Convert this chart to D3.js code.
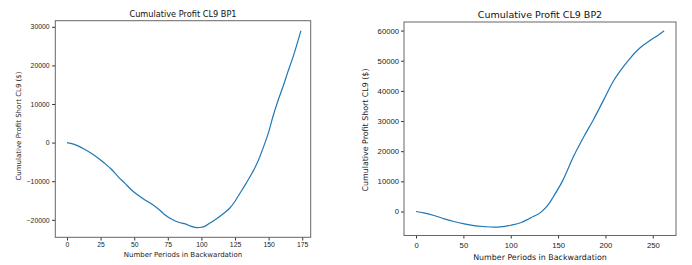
<!DOCTYPE html>
<html>
<head>
<meta charset="utf-8">
<script src="https://cdn.jsdelivr.net/npm/d3@7"></script>
<style>
  body { margin: 0; background: #fff; }
  svg { display: block; font-family: "DejaVu Sans", sans-serif; }
  .tick line { stroke: #333; }
  .tick text { fill: #222; }
</style>
</head>
<body>
<div id="viz"></div>
<script>
// BP1 - cumulative profit
var bp1Periods = [0, 6, 13, 18, 23, 28, 33, 38, 43, 48, 53, 58, 63, 68, 73, 78, 83, 88, 93, 97,
  100, 102, 106, 111, 116, 121, 125, 128, 133, 138, 142, 146, 150, 153, 157, 161, 164, 168, 171, 174]
var bp1Profit = [0, -520, -1730, -2760, -3970, -5350, -6900, -8800, -10500, -12260, -13640, -14850,
  -15900, -17200, -18740, -19860, -20640, -21070, -21760, -22020, -21930, -21780, -20900, -19800,
  -18500, -17000, -15200, -13500, -10700, -7700, -4900, -1300, 2700, 6500, 10900, 14800, 18000,
  22000, 25400, 28980]

// BP2
var bp2Periods = [0, 8, 19, 30, 40, 51, 61, 72, 82, 89, 100, 111, 117, 121, 132, 139, 145, 155,
  166, 177, 187, 198, 208, 215, 226, 236, 247, 256, 262]
var bp2Profit = [0, -440, -1330, -2440, -3330, -4110, -4660, -5000, -5210, -5100, -4550, -3660,
  -2770, -2110, -200, 2000, 4900, 10320, 18080, 24730, 30280, 36940, 43030, 46360, 50800, 54130,
  56680, 58570, 59900]

var bp1XTicks = [0, 25, 50, 75, 100, 125, 150, 175]
var bp1YTicks = [-20000, -10000, 0, 10000, 20000, 30000]
var bp2XTicks = [0, 50, 100, 150, 200, 250]
var bp2YTicks = [0, 10000, 20000, 30000, 40000, 50000, 60000]

var svg = d3.select("#viz")
  .append("svg")
  .attr("width", 692)
  .attr("height", 265)

function drawPanel(p) {
  var x = d3.scaleLinear().domain(p.xDomain).range([p.left, p.right])
  var y = d3.scaleLinear().domain(p.yDomain).range([p.bottom, p.top])
  var g = svg.append("g")
  var fmt = d3.format("d")

  // x axis
  g.append("g")
    .attr("transform", "translate(0," + p.bottom + ")")
    .call(d3.axisBottom(x).tickValues(p.xTicks).tickFormat(fmt)
      .tickSize(p.tickLen).tickPadding(p.xPad))
    .call(a => a.select(".domain").remove())
    .selectAll("text").style("font-size", p.tickFont + "px")

  // y axis
  g.append("g")
    .attr("transform", "translate(" + p.left + ",0)")
    .call(d3.axisLeft(y).tickValues(p.yTicks).tickFormat(fmt)
      .tickSize(p.tickLen).tickPadding(p.yPad))
    .call(a => a.select(".domain").remove())
    .selectAll("text").style("font-size", p.tickFont + "px")

  // the line
  var line = d3.line()
    .x((d, i) => x(p.xs[i]))
    .y(d => y(d))
    .curve(d3.curveMonotoneX)

  g.append("path")
    .datum(p.ys)
    .attr("d", line)
    .attr("fill", "none")
    .attr("stroke", "#1f77b4")
    .attr("stroke-width", 1.2)

  // box
  g.append("rect")
    .attr("x", p.left)
    .attr("y", p.top)
    .attr("width", p.right - p.left)
    .attr("height", p.bottom - p.top)
    .attr("fill", "none")
    .attr("stroke", "#666")
    .attr("stroke-width", 1)

  // title + axis labels
  var cx = (p.left + p.right) / 2
  g.append("text")
    .attr("x", cx).attr("y", p.titleY)
    .attr("text-anchor", "middle")
    .style("font-size", p.titleFont + "px")
    .style("fill", "#111")
    .text(p.title)

  g.append("text")
    .attr("x", cx).attr("y", p.xLabelY)
    .attr("text-anchor", "middle")
    .style("font-size", p.labelFont + "px")
    .style("fill", "#222")
    .text("Number Periods in Backwardation")

  g.append("text")
    .attr("transform", "translate(" + p.yLabelX + "," + p.yLabelCy + ") rotate(-90)")
    .attr("text-anchor", "middle")
    .attr("dy", "0.35em")
    .style("font-size", p.labelFont + "px")
    .style("fill", "#222")
    .text("Cumulative Profit Short CL9 ($)")
}

drawPanel({
  xs: bp1Periods, ys: bp1Profit, xTicks: bp1XTicks, yTicks: bp1YTicks,
  xDomain: [-8.7, 181.3], yDomain: [-24530, 31580],
  left: 55.3, right: 310.7, top: 20.7, bottom: 237.3,
  tickLen: 3.2, xPad: 2.1, yPad: 2.6, tickFont: 6.8, labelFont: 7, titleFont: 8.2,
  title: "Cumulative Profit CL9 BP1", titleY: 17.3, xLabelY: 257, yLabelX: 18.3, yLabelCy: 126
})

drawPanel({
  xs: bp2Periods, ys: bp2Profit, xTicks: bp2XTicks, yTicks: bp2YTicks,
  xDomain: [-12.7, 274.5], yDomain: [-7960, 62850],
  left: 404, right: 676, top: 22, bottom: 235.5,
  tickLen: 3, xPad: 4.4, yPad: 2, tickFont: 7.7, labelFont: 7.9, titleFont: 9.5,
  title: "Cumulative Profit CL9 BP2", titleY: 17.7, xLabelY: 259.5, yLabelX: 365.7, yLabelCy: 130
})
</script>
</body>
</html>
